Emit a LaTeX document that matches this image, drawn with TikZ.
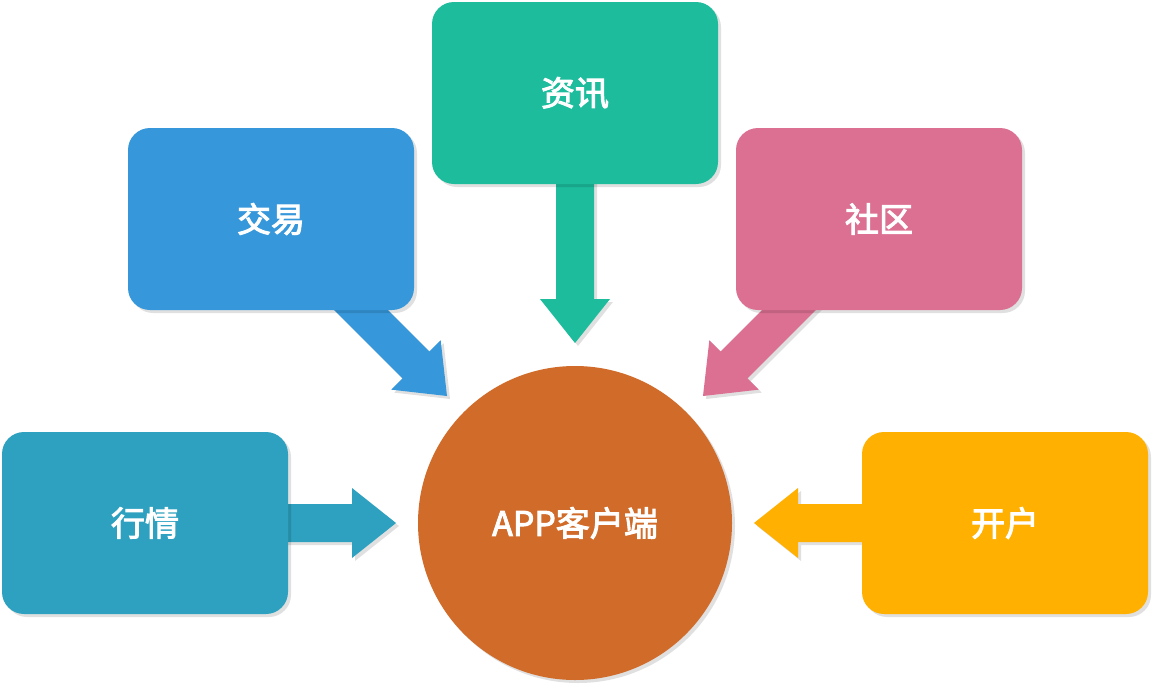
\documentclass[tikz,border=0pt]{standalone}
\usepackage{fontspec}
\newfontfamily\cjk{Noto Sans CJK SC}
\usetikzlibrary{shadows}
\definecolor{cJY}{RGB}{54,152,219}
\definecolor{cZX}{RGB}{28,188,156}
\definecolor{cSQ}{RGB}{220,112,146}
\definecolor{cHQ}{RGB}{45,161,191}
\definecolor{cKH}{RGB}{255,176,0}
\definecolor{cAPP}{RGB}{208,107,42}
\newcommand\embold[1]{\special{pdf:literal direct 2 Tr 1.0 w}#1\special{pdf:literal direct 0 Tr}}
\tikzset{
  x=1pt, y=-1pt,
  shad/.style={drop shadow={shadow xshift=3pt, shadow yshift=-3pt, opacity=0.12, fill=black}},
  boxnode/.style={shad, rounded corners=22pt, minimum width=286pt, minimum height=182pt,
    inner sep=0pt, text=white, font=\cjk\fontsize{34}{40}\selectfont},
  hubnode/.style={shad, circle, minimum size=314pt, inner sep=0pt, fill=cAPP,
    text=white, font=\cjk\fontsize{34}{40}\selectfont},
  arrowshadow/.style={fill=black, opacity=0.12},
}
% \blockarrow{tip}{angle}{colour}{length}
\newcommand\blockarrow[4]{%
  \begin{scope}[shift={(#1)}]
    \fill[arrowshadow, shift={(3,3)}, rotate=#2] (0,0) -- (-44,35) -- (-44,19) -- (-#4,19)
      -- (-#4,-19) -- (-44,-19) -- (-44,-35) -- cycle;
    \fill[fill=#3, rotate=#2] (0,0) -- (-44,35) -- (-44,19) -- (-#4,19)
      -- (-#4,-19) -- (-44,-19) -- (-44,-35) -- cycle;
  \end{scope}}
\begin{document}
\begin{tikzpicture}
\useasboundingbox (0,0) rectangle (1154,686);
\fill[white] (0,0) rectangle (1154,686);
% arrow tips
\coordinate (tJY) at (447,396);
\coordinate (tZX) at (575,343);
\coordinate (tSQ) at (703,396);
\coordinate (tHQ) at (396,523);
\coordinate (tKH) at (754,523);
% arrows (drawn under the boxes)
\blockarrow{tJY}{-45}{cJY}{150}
\blockarrow{tZX}{-90}{cZX}{175}
\blockarrow{tSQ}{-135}{cSQ}{150}
\blockarrow{tHQ}{0}{cHQ}{130}
\blockarrow{tKH}{180}{cKH}{130}
% boxes
\node[boxnode, fill=cJY] (jy) at (271,219) {\embold{交易}};
\node[boxnode, fill=cZX] (zx) at (575,93) {\embold{资讯}};
\node[boxnode, fill=cSQ] (sq) at (879,219) {\embold{社区}};
\node[boxnode, fill=cHQ] (hq) at (145,523) {\embold{行情}};
\node[boxnode, fill=cKH] (kh) at (1005,523) {\embold{开户}};
\node[hubnode] (app) at (575,523) {\embold{APP客户端}};
\end{tikzpicture}
\end{document}
